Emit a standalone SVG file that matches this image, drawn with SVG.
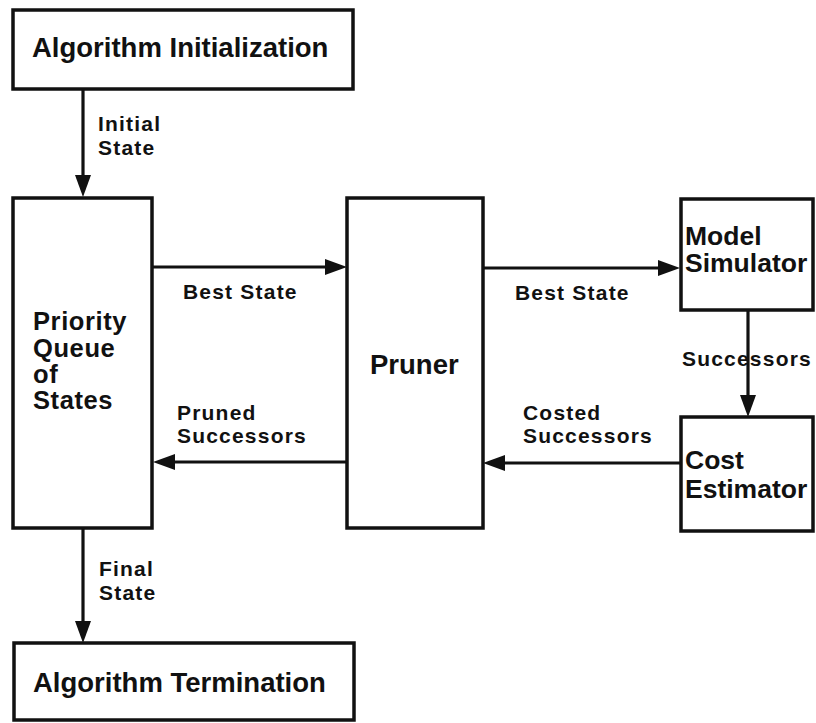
<svg xmlns="http://www.w3.org/2000/svg" width="816" height="723" viewBox="0 0 816 723">
  <style>
    .box { fill: #ffffff; stroke: #111111; stroke-width: 3.5; }
    .big { font-family: "Liberation Sans", Arial, Helvetica, sans-serif; font-weight: bold; font-size: 27.5px; fill: #111111; }
    .stack { font-size: 25.5px; letter-spacing: 0.6px; }
    .side { font-size: 26.5px; }
    .lbl { font-family: "Liberation Sans", Arial, Helvetica, sans-serif; font-weight: bold; font-size: 21px; letter-spacing: 1.2px; fill: #111111; }
    .edge { fill: none; stroke: #111111; stroke-width: 3.2; marker-end: url(#head); }
  </style>
  <defs>
    <marker id="head" markerUnits="userSpaceOnUse" markerWidth="26" markerHeight="18" refX="14" refY="8" orient="auto">
      <path d="M0,0 L22,8 L0,16 Z" fill="#111111"/>
    </marker>
  </defs>

  <rect width="816" height="723" fill="#ffffff"/>

  <!-- connectors -->
  <g id="connectors">
    <line class="edge" x1="83" y1="90" x2="83" y2="189"/>
    <line class="edge" x1="83" y1="529" x2="83" y2="635"/>
    <line class="edge" x1="153" y1="267" x2="339" y2="267"/>
    <line class="edge" x1="483" y1="268" x2="672" y2="268"/>
    <line class="edge" x1="748" y1="311" x2="748" y2="409"/>
    <line class="edge" x1="680" y1="463" x2="491" y2="463"/>
    <line class="edge" x1="347" y1="462" x2="161" y2="462"/>

    <text class="lbl" x="98" y="131">Initial</text>
    <text class="lbl" x="98" y="155">State</text>
    <text class="lbl" x="99" y="576">Final</text>
    <text class="lbl" x="99" y="600">State</text>
    <text class="lbl" x="183" y="299">Best State</text>
    <text class="lbl" x="515" y="300">Best State</text>
    <text class="lbl" x="177" y="420">Pruned</text>
    <text class="lbl" x="177" y="443">Successors</text>
    <text class="lbl" x="523" y="420">Costed</text>
    <text class="lbl" x="523" y="443">Successors</text>
    <text class="lbl" x="682" y="366">Successors</text>
  </g>

  <!-- nodes -->
  <g id="init">
    <rect class="box" x="13" y="10" width="340" height="79"/>
    <text class="big" x="32" y="57">Algorithm Initialization</text>
  </g>

  <g id="queue">
    <rect class="box" x="13" y="198" width="139" height="330"/>
    <text class="big stack" x="33" y="330">Priority</text>
    <text class="big stack" x="33" y="357">Queue</text>
    <text class="big stack" x="33" y="383">of</text>
    <text class="big stack" x="33" y="409">States</text>
  </g>

  <g id="pruner">
    <rect class="box" x="347" y="198" width="136" height="330"/>
    <text class="big" x="370" y="374">Pruner</text>
  </g>

  <g id="simulator">
    <rect class="box" x="681" y="199" width="132" height="111"/>
    <text class="big side" x="685" y="245">Model</text>
    <text class="big side" x="685" y="272">Simulator</text>
  </g>

  <g id="estimator">
    <rect class="box" x="681" y="417" width="132" height="114"/>
    <text class="big side" x="685" y="469">Cost</text>
    <text class="big side" x="685" y="498">Estimator</text>
  </g>

  <g id="termination">
    <rect class="box" x="14" y="643" width="340" height="77"/>
    <text class="big" x="33" y="692">Algorithm Termination</text>
  </g>
</svg>
